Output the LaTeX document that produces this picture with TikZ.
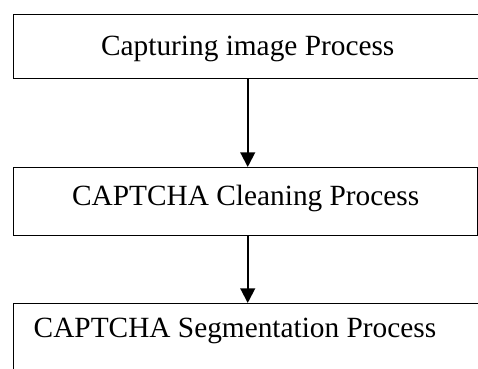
\documentclass[tikz,border=0pt]{standalone}
\usepackage{fontspec}
\setmainfont{Liberation Serif}
\usepackage{tikz}
\usetikzlibrary{arrows.meta, positioning}
\newcommand{\stagefont}{\fontsize{22pt}{26pt}\selectfont}
\tikzset{
    stagebox/.style={rectangle, draw=black, line width=1.1pt, fill=white,
                     inner xsep=0pt, inner ysep=0pt, font=\stagefont},
    flowarrow/.style={-{Triangle[length=11pt, width=11pt]}, line width=1.5pt, draw=black},
}
\begin{document}
\begin{tikzpicture}[x=0.75pt, y=-0.75pt]
    \clip (0,0) rectangle (478,368);
    \node[stagebox, anchor=north west, minimum width=351pt,
          text height=30.75pt, text depth=17.25pt] (capture) at (13,14)
          {Capturing image Process};
    \node[stagebox, anchor=north west, minimum width=348pt,
          text height=28.5pt, text depth=22.5pt] (clean) at (13,167)
          {CAPTCHA Cleaning Process};
    \node[stagebox, anchor=north west, inner xsep=15pt, text width=321pt, align=flush left,
          text height=25.5pt, text depth=60pt] (segment) at (13,303)
          {CAPTCHA Segmentation Process};
    \draw[flowarrow] (capture.south) -- (capture.south |- clean.north);
    \draw[flowarrow] (capture.south |- clean.south) -- (capture.south |- segment.north);
\end{tikzpicture}
\end{document}
